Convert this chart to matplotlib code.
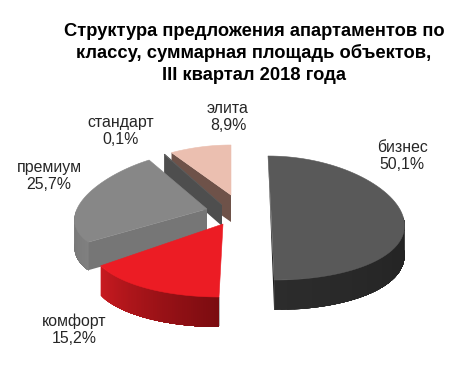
import numpy as np
import matplotlib
matplotlib.use("Agg")
import matplotlib.pyplot as plt
from matplotlib.patches import Polygon
from matplotlib.colors import to_rgb

categories = ["бизнес", "комфорт", "премиум", "стандарт", "элита"]
shares = [50.1, 15.2, 25.7, 0.1, 8.9]
title_lines = ["Структура предложения апартаментов по",
               "классу, суммарная площадь объектов,",
               "III квартал 2018 года"]

plt.rcParams["font.family"] = ["Liberation Sans", "DejaVu Sans"]

# apex_x, apex_y, a, b, perspective, shear, depth
geometry = {
    "бизнес":   (271.5, 218, 132, 62, 0.10, 3.5, 30),
    "комфорт":  (223, 224, 132, 73, 0.20, -3, 30),
    "премиум":  (207, 209, 130, 58, 0.20, 0, 28),
    "стандарт": (222, 205, 130, 60, 0.20, 0, 21),
    "элита":    (231, 195, 135, 50, 0.20, 0, 27),
}
top_colors = {"бизнес": "#595959", "комфорт": "#ec1c24", "премиум": "#878787",
              "стандарт": "#5c5c5c", "элита": "#ebbfb0"}
rim_from = {"бизнес": "#222222", "комфорт": "#7a0c10", "премиум": "#808080",
            "стандарт": "#4a4a4a", "элита": "#6e5249"}
rim_to = {"бизнес": "#2c2c2c", "комфорт": "#c81a20", "премиум": "#737373",
          "стандарт": "#4a4a4a", "элита": "#6e5249"}
wall_colors = {"бизнес": "#1c1c1c", "комфорт": "#7a0c10", "премиум": "#767676",
               "стандарт": "#4e4e4e", "элита": "#6e5249"}
label_pos = {"бизнес": (402, 156), "комфорт": (74, 330), "премиум": (49, 176),
             "стандарт": (121, 131), "элита": (228, 117)}
title_y = [31, 53, 75]
draw_order = ["элита", "стандарт", "премиум", "бизнес", "комфорт"]

fig = plt.figure(figsize=(4.71, 3.72), dpi=100)
ax = fig.add_axes([0, 0, 1, 1])
ax.set_xlim(0, 471)
ax.set_ylim(372, 0)
ax.axis("off")

cum = np.concatenate([[0], np.cumsum(shares)]) / np.sum(shares) * 2 * np.pi
spans = {c: (cum[i], cum[i + 1]) for i, c in enumerate(categories)}


def project(name, t):
    ax0, ay0, a, b, k, sh, _ = geometry[name]
    t = np.asarray(t, dtype=float)
    u, v = np.sin(t), -np.cos(t)
    return ax0 + a * u * (1 + k * v) + sh * v, ay0 + b * v


for name in draw_order:
    t0, t1 = spans[name]
    depth = geometry[name][6]
    apex = np.array(geometry[name][:2], dtype=float)
    edge = np.array(project(name, np.array([t0, t1]))).T

    # radial walls
    if name == "бизнес":
        ax.add_patch(Polygon([edge[0], edge[1], edge[1] + [0, depth]],
                             fc=wall_colors[name], ec="none"))
    elif name in ("премиум", "стандарт", "элита"):
        ax.add_patch(Polygon([edge[0], apex, apex + [0, depth], edge[0] + [0, depth]],
                             fc=wall_colors[name], ec="none"))

    # outer rim with a gradient (front-facing part only); each band reaches the
    # far end of the rim so that no seams show between bands
    n = 70
    ts = np.linspace(t0, t1, n + 1)
    xs, ys = project(name, ts)
    c0, c1 = np.array(to_rgb(rim_from[name])), np.array(to_rgb(rim_to[name]))
    if name not in ("стандарт", "элита"):
        front = np.nonzero(-np.cos(ts) >= 0)[0]
        lo, hi = front[0], front[-1]
        for i in range(hi, lo, -1):
            f = (i - lo) / max(hi - lo, 1)
            col = tuple(c0 + (c1 - c0) * f)
            lower = np.column_stack([xs[lo:i + 1], ys[lo:i + 1] + depth])
            upper = np.column_stack([xs[lo:i + 1], ys[lo:i + 1]])
            ax.add_patch(Polygon(np.vstack([upper, lower[::-1]]), fc=col, ec="none"))

    # top face
    pts = np.column_stack([xs, ys])
    ax.add_patch(Polygon(np.vstack([apex, pts]), fc=top_colors[name],
                         ec=top_colors[name], lw=0.4))

for name, val in zip(categories, shares):
    x, y = label_pos[name]
    txt = f"{name}\n{val:.1f}%".replace(".", ",")
    ax.text(x, y, txt, ha="center", va="center", fontsize=11.4,
            color="#262626", linespacing=1.14)

for line, y in zip(title_lines, title_y):
    ax.text(254, y, line, ha="center", va="center", fontsize=13.2, fontweight="bold",
            color="black")

fig.savefig("out.png", dpi=100)
